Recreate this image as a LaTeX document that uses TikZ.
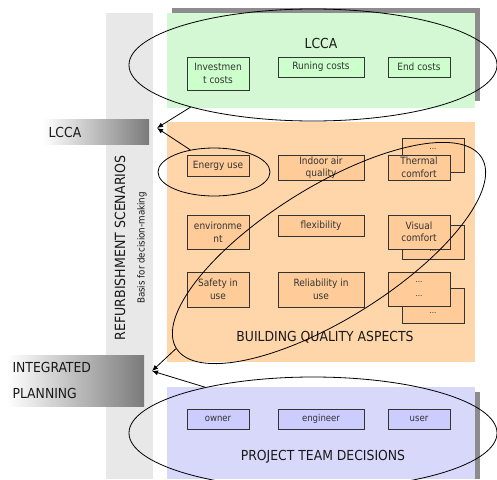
\documentclass[tikz,border=0pt]{standalone}
\usepackage{fontspec}
\setsansfont{DejaVu Sans Condensed}
\usetikzlibrary{arrows.meta, shapes.geometric, shadings}

\definecolor{lccagreen}{HTML}{D4F8D4}
\definecolor{boxgreen}{HTML}{CCFFCC}
\definecolor{qualorange}{HTML}{FFD5AA}
\definecolor{boxorange}{HTML}{FFCC99}
\definecolor{teamblue}{HTML}{D8D8FB}
\definecolor{boxblue}{HTML}{CCCCFF}
\definecolor{bandgray}{HTML}{E8E8E8}

\begin{document}
\begin{tikzpicture}[x=1pt, y=-1pt, font=\sffamily,
	aspect/.style={draw=black!80, line width=0.9pt, align=center, inner sep=0pt, text=black!80, font=\sffamily\fontsize{10}{12.5}\selectfont},
	ring/.style={ellipse, draw, line width=0.8pt, inner sep=0pt},
	title/.style={text=black!90, font=\sffamily\fontsize{13.8}{16}\selectfont},
	tip/.style={line width=0.8pt, -{Latex[length=6pt, width=5pt]}}]

	\useasboundingbox (0,0) rectangle (497,479);

	% grey band and coloured areas
	\fill[bandgray] (106,13) rectangle (153,479);
	\fill[black!45] (172,8) rectangle (480,101);
	\fill[lccagreen] (167,13) rectangle (475,108);
	\fill[qualorange] (167,122) rectangle (475,362);
	\fill[black!45] (172,392) rectangle (480,479);
	\fill[teamblue] (167,387) rectangle (475,479);

	% LCCA
	\node[aspect, fill=boxgreen, minimum width=62, minimum height=33] (inv) at (218,73.5) {Investmen\\t costs};
	\node[aspect, fill=boxgreen, minimum width=86, minimum height=20] (run) at (321,67) {Runing costs};
	\node[aspect, fill=boxgreen, minimum width=62, minimum height=20] (endc) at (419,67) {End costs};
	\node[title] (lccatitle) at (321,43) {LCCA};

	% quality aspects
	\node[aspect, fill=boxorange, minimum width=62, minimum height=34] (thermalb) at (433,155) {};
	\node[aspect, fill=boxorange, minimum width=62, minimum height=34] (visualb) at (433,242) {};
	\node[aspect, fill=boxorange, minimum width=62, minimum height=35] (moreb) at (433,305.5) {};
	\node[aspect, draw=none, font=\sffamily\fontsize{8}{9}\selectfont] at (433,149) {...};
	\node[aspect, draw=none, font=\sffamily\fontsize{8}{9}\selectfont] at (433,251) {...};
	\node[aspect, draw=none, font=\sffamily\fontsize{8}{9}\selectfont] at (433,313) {...};

	\node[aspect, fill=boxorange, minimum width=62, minimum height=21] (energy) at (218,165.5) {Energy use};
	\node[aspect, fill=boxorange, minimum width=86, minimum height=25] (indoor) at (321,167.5) {Indoor air\\quality};
	\node[aspect, fill=boxorange, minimum width=62, minimum height=25] (thermal) at (419,167.5) {Thermal\\comfort};
	\node[aspect, fill=boxorange, minimum width=62, minimum height=34] (env) at (218,232) {environme\\nt};
	\node[aspect, fill=boxorange, minimum width=86, minimum height=21] (flex) at (321,225.5) {flexibility};
	\node[aspect, fill=boxorange, minimum width=62, minimum height=34] (visual) at (419,232) {Visual\\comfort};
	\node[aspect, fill=boxorange, minimum width=62, minimum height=35] (safety) at (218,289.5) {Safety in\\use};
	\node[aspect, fill=boxorange, minimum width=86, minimum height=35] (reliab) at (321,289.5) {Reliability in\\use};
	\node[aspect, fill=boxorange, minimum width=62, minimum height=34, font=\sffamily\fontsize{8}{14}\selectfont] (more) at (419,289) {...\\...};
	\node[title] (qualtitle) at (325,337) {BUILDING QUALITY ASPECTS};

	% project team
	\node[aspect, fill=boxblue, minimum width=62, minimum height=20, font=\sffamily\fontsize{9.5}{11}\selectfont] (owner) at (218,419) {owner};
	\node[aspect, fill=boxblue, minimum width=86, minimum height=20, font=\sffamily\fontsize{9.5}{11}\selectfont] (engineer) at (321,419) {engineer};
	\node[aspect, fill=boxblue, minimum width=62, minimum height=20, font=\sffamily\fontsize{9.5}{11}\selectfont] (user) at (419,419) {user};
	\node[title] (teamtitle) at (323,457) {PROJECT TEAM DECISIONS};

	% side labels
	\shade[left color=white, right color=black!52] (43,119) rectangle (149,144);
	\shade[left color=white, right color=black!52] (7,355) rectangle (144,406);
	\node[title, anchor=west] (lccalabel) at (45,132) {LCCA};
	\node[title, anchor=west] (intlabel) at (9,367) {INTEGRATED};
	\node[title, anchor=west] (planlabel) at (9,393) {PLANNING};
	\node[title, rotate=90, font=\sffamily\fontsize{14}{16}\selectfont] (scenario) at (120,248) {REFURBISHMENT SCENARIOS};
	\node[title, rotate=90, font=\sffamily\fontsize{9.7}{12}\selectfont] (basis) at (142,248) {Basis for decision-making};

	% ellipses
	\node[ring, minimum width=368, minimum height=112] (lccaring) at (313,65) {};
	\node[ring, minimum width=112, minimum height=48] (energyring) at (214,172) {};
	\node[ring, rotate=32, minimum width=360, minimum height=132] (qualring) at (329,253) {};
	\node[ring, minimum width=368, minimum height=112] (teamring) at (313,433) {};

	% connectors
	\coordinate (lccadot) at (157,128);
	\coordinate (intdot) at (152,371);
	\draw[tip] (lccaring.199) -- (lccadot);
	\draw[tip] (energyring.137) -- (lccadot);
	\draw[tip] (qualring.west) -- (intdot);
	\draw[tip] (teamring.157) -- (intdot);

\end{tikzpicture}
\end{document}
